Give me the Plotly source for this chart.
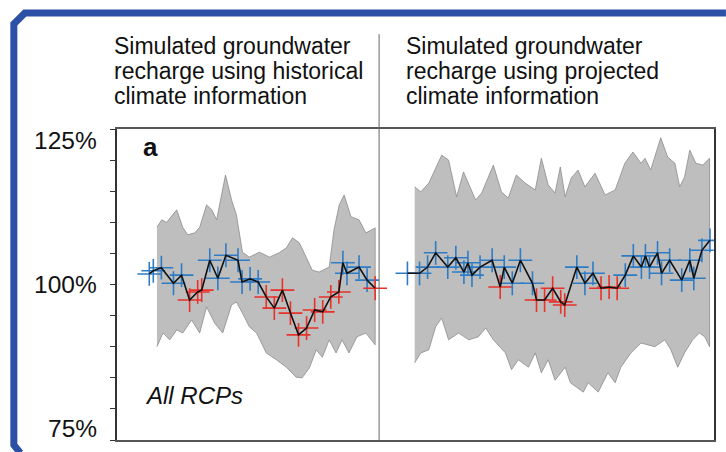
import plotly.graph_objects as go

# ---------------- data ----------------
hist_years = [1950, 1951, 1953, 1956, 1958, 1960, 1962, 1963, 1965, 1967, 1969, 1972,
              1973, 1975, 1977, 1979, 1981, 1983, 1985, 1987, 1989, 1991, 1993, 1995,
              1997, 1998, 1999, 2002, 2004, 2006]
hist_values = [101.7, 102.2, 102.7, 100.2, 101.5, 97.5, 98.8, 99.1, 103.9, 101.0, 104.7, 103.9,
               100.4, 100.9, 100.4, 98.0, 96.2, 99.1, 95.4, 91.9, 93.0, 95.9, 95.6, 98.0,
               98.8, 103.5, 101.8, 102.8, 100.7, 99.4]

hist_band_up_x = [1951.9, 1953.1, 1954.3, 1956.8, 1958.3, 1959.5, 1961.3, 1962.5, 1964.2, 1965.5,
                  1966.7, 1967.9, 1968.9, 1970.4, 1971.6, 1973.1, 1974.8, 1977.3, 1979.8, 1982.2,
                  1984.0, 1985.5, 1987.2, 1988.9, 1990.4, 1992.1, 1994.6, 1995.8, 1997.1, 1998.3,
                  2000.0, 2002.0, 2003.7, 2006.0]
hist_band_up = [109.2, 110.4, 110.0, 112.0, 109.2, 108.0, 108.3, 109.2, 112.8, 112.0,
                110.4, 114.1, 117.6, 113.6, 111.2, 105.2, 104.4, 105.2, 104.4, 105.1,
                105.9, 107.5, 106.7, 104.4, 102.3, 102.0, 102.8, 108.8, 112.8, 114.4,
                110.9, 110.4, 108.3, 109.1]
hist_band_lo_x = [1951.9, 1953.4, 1955.1, 1956.8, 1958.3, 1960.5, 1962.5, 1964.2, 1966.2, 1968.2,
                  1970.4, 1971.6, 1973.1, 1974.8, 1976.6, 1979.0, 1981.5, 1984.0, 1986.4, 1987.9,
                  1989.7, 1991.4, 1992.9, 1994.6, 1996.3, 1997.8, 1999.5, 2001.5, 2003.7, 2006.0]
hist_band_lo = [90.0, 92.2, 91.1, 92.7, 92.2, 94.3, 92.2, 96.4, 93.8, 92.2,
                96.7, 97.2, 95.4, 93.2, 92.2, 89.0, 87.9, 86.7, 85.1, 85.0,
                86.6, 89.5, 88.3, 91.1, 89.0, 91.1, 89.0, 91.6, 92.2, 90.3]

proj_years = [2014, 2017, 2019, 2021, 2024, 2026, 2028, 2029, 2030, 2032, 2035, 2037,
              2038, 2040, 2042, 2045, 2046, 2048, 2050, 2052, 2053, 2056, 2058, 2060,
              2062, 2064, 2066, 2068, 2070, 2072, 2073, 2074, 2076, 2077, 2079, 2082,
              2084, 2085, 2087, 2089]
proj_values = [101.8, 101.8, 102.8, 105.1, 102.8, 104.3, 102.0, 103.5, 101.5, 102.8, 103.9, 99.6,
               102.8, 100.2, 103.9, 100.2, 97.5, 97.5, 99.4, 97.2, 96.7, 102.8, 100.2, 101.8,
               99.4, 99.6, 99.4, 101.5, 104.6, 102.8, 104.6, 102.8, 105.1, 101.8, 103.9, 100.7,
               103.9, 101.0, 105.5, 107.1]

proj_band_up_x = [2015.8, 2017.3, 2019.3, 2022.5, 2024.2, 2026.2, 2027.9, 2030.9, 2032.4, 2035.3,
                  2037.3, 2039.0, 2041.0, 2043.2, 2045.7, 2047.2, 2048.9, 2050.6, 2051.9, 2053.1,
                  2054.6, 2056.3, 2058.0, 2060.5, 2063.0, 2065.5, 2067.9, 2069.9, 2071.9, 2072.9,
                  2074.3, 2076.8, 2078.5, 2080.3, 2081.5, 2082.7, 2084.0, 2085.5, 2087.2, 2088.9]
proj_band_up = [115.7, 114.9, 116.3, 120.8, 120.0, 114.1, 118.1, 113.6, 114.7, 119.2,
                114.9, 113.9, 117.6, 116.3, 115.2, 120.3, 116.0, 114.7, 118.9, 114.1,
                117.1, 118.4, 115.7, 117.9, 114.4, 115.2, 119.5, 121.3, 119.5, 120.3,
                118.4, 123.6, 120.5, 119.5, 115.7, 117.3, 121.6, 119.5, 119.2, 120.3]
proj_band_lo_x = [2015.8, 2017.3, 2019.3, 2021.0, 2022.5, 2024.2, 2026.7, 2029.2, 2031.6, 2033.4,
                  2035.3, 2038.3, 2039.8, 2041.5, 2044.0, 2045.7, 2047.2, 2048.9, 2050.6, 2053.1,
                  2054.4, 2055.8, 2057.6, 2058.8, 2061.3, 2063.7, 2065.5, 2066.9, 2069.4, 2071.9,
                  2075.3, 2077.8, 2079.3, 2081.0, 2082.7, 2084.7, 2086.4, 2087.7, 2088.9]
proj_band_lo = [87.4, 89.0, 89.5, 93.2, 94.6, 91.1, 92.2, 91.1, 91.6, 93.0,
                91.1, 89.0, 86.3, 87.9, 86.7, 89.0, 85.8, 87.9, 84.6, 86.7,
                84.2, 83.5, 82.7, 84.2, 82.7, 85.8, 84.2, 86.7, 89.0, 90.6,
                90.0, 91.1, 89.5, 86.7, 89.0, 91.1, 92.2, 91.6, 90.0]

y_tick_vals = [75, 100, 125]
y_tick_text = ["75%", "100%", "125%"]
title_left = ["Simulated groundwater", "recharge using historical", "climate information"]
title_right = ["Simulated groundwater", "recharge using projected", "climate information"]
panel_label = "a"
scenario_label = "All RCPs"

# ---------------- styles ----------------
BLUE = "#2E7CC6"
RED = "#E8322A"
BAND = "#BEBEBE"
BORDER_BLUE = "#2B50A6"
FONT = "Liberation Sans, Arial, sans-serif"

fig = go.Figure()


def add_band(ux, uy, lx, ly):
    fig.add_trace(go.Scatter(
        x=list(ux) + list(lx)[::-1], y=list(uy) + list(ly)[::-1],
        fill="toself", fillcolor=BAND, mode="lines",
        line=dict(color="#8C8C8C", width=0.8), hoverinfo="skip", showlegend=False))


def add_series(xs, ys):
    cols = [BLUE if v >= 100 else RED for v in ys]
    fig.add_trace(go.Scatter(
        x=xs, y=ys, mode="markers",
        marker=dict(symbol="cross-thin", size=17, color=cols,
                    line=dict(color=cols, width=1.6)),
        showlegend=False))
    fig.add_trace(go.Scatter(
        x=xs, y=ys, mode="lines", line=dict(color="#111111", width=1.6),
        showlegend=False))


add_band(hist_band_up_x, hist_band_up, hist_band_lo_x, hist_band_lo)
add_band(proj_band_up_x, proj_band_up, proj_band_lo_x, proj_band_lo)
add_series(hist_years, hist_values)
add_series(proj_years, proj_values)

annotations = []
for t, v in zip(y_tick_text, y_tick_vals):
    shift = -11 if v == 125 else (12 if v == 75 else 0)
    annotations.append(dict(x=0, xref="paper", y=v, yref="y", text=t, showarrow=False,
                            xanchor="right", yanchor="middle", xshift=-18, yshift=shift,
                            font=dict(family=FONT, size=24.5, color="#111")))
line_y = [1.2669, 1.1865, 1.1061]
for i in range(3):
    annotations.append(dict(x=-0.0083, xref="paper", y=line_y[i], yref="paper",
                            text=title_left[i], showarrow=False, xanchor="left",
                            yanchor="middle", font=dict(family=FONT, size=23, color="#111")))
    annotations.append(dict(x=0.480, xref="paper", y=line_y[i], yref="paper",
                            text=title_right[i], showarrow=False, xanchor="left",
                            yanchor="middle", font=dict(family=FONT, size=23, color="#111")))
annotations.append(dict(x=0.041, xref="paper", y=0.942, yref="paper", text="<b>" + panel_label + "</b>",
                        showarrow=False, xanchor="left", yanchor="middle",
                        font=dict(family=FONT, size=26, color="#111")))
annotations.append(dict(x=0.043, xref="paper", y=0.1415, yref="paper", text="<i>" + scenario_label + "</i>",
                        showarrow=False, xanchor="left", yanchor="middle",
                        font=dict(family=FONT, size=24, color="#111")))

shapes = [
    # separator between the two panels
    dict(type="line", xref="paper", yref="paper", x0=0.439, x1=0.439, y0=0, y1=1.305,
         line=dict(color="#666666", width=1)),
    # blue frame
    dict(type="path", xref="paper", yref="paper",
         path="M -0.1619,-0.0418 L -0.1728,-0.0161 L -0.1728,1.3376 L -0.1544,1.3730 L 1.02,1.3730",
         line=dict(color=BORDER_BLUE, width=7)),
]

fig.update_layout(
    width=726, height=452,
    margin=dict(l=117, r=10, t=129, b=12),
    paper_bgcolor="white", plot_bgcolor="white",
    showlegend=False,
    annotations=annotations, shapes=shapes,
    xaxis=dict(range=[1942, 2090], showgrid=False, zeroline=False, showticklabels=False,
               ticks="", showline=True, mirror=True, linecolor="#555555", linewidth=1.5),
    yaxis=dict(range=[75, 125], showgrid=False, zeroline=False, showticklabels=False,
               tickmode="linear", tick0=75, dtick=5, ticks="outside", ticklen=5,
               tickcolor="#333333", showline=True, mirror=True, linecolor="#333333",
               linewidth=1.5),
)

fig.write_html("out.html", config={"displayModeBar": False},
               post_script="document.body.style.margin='0';document.body.style.overflow='hidden';")
